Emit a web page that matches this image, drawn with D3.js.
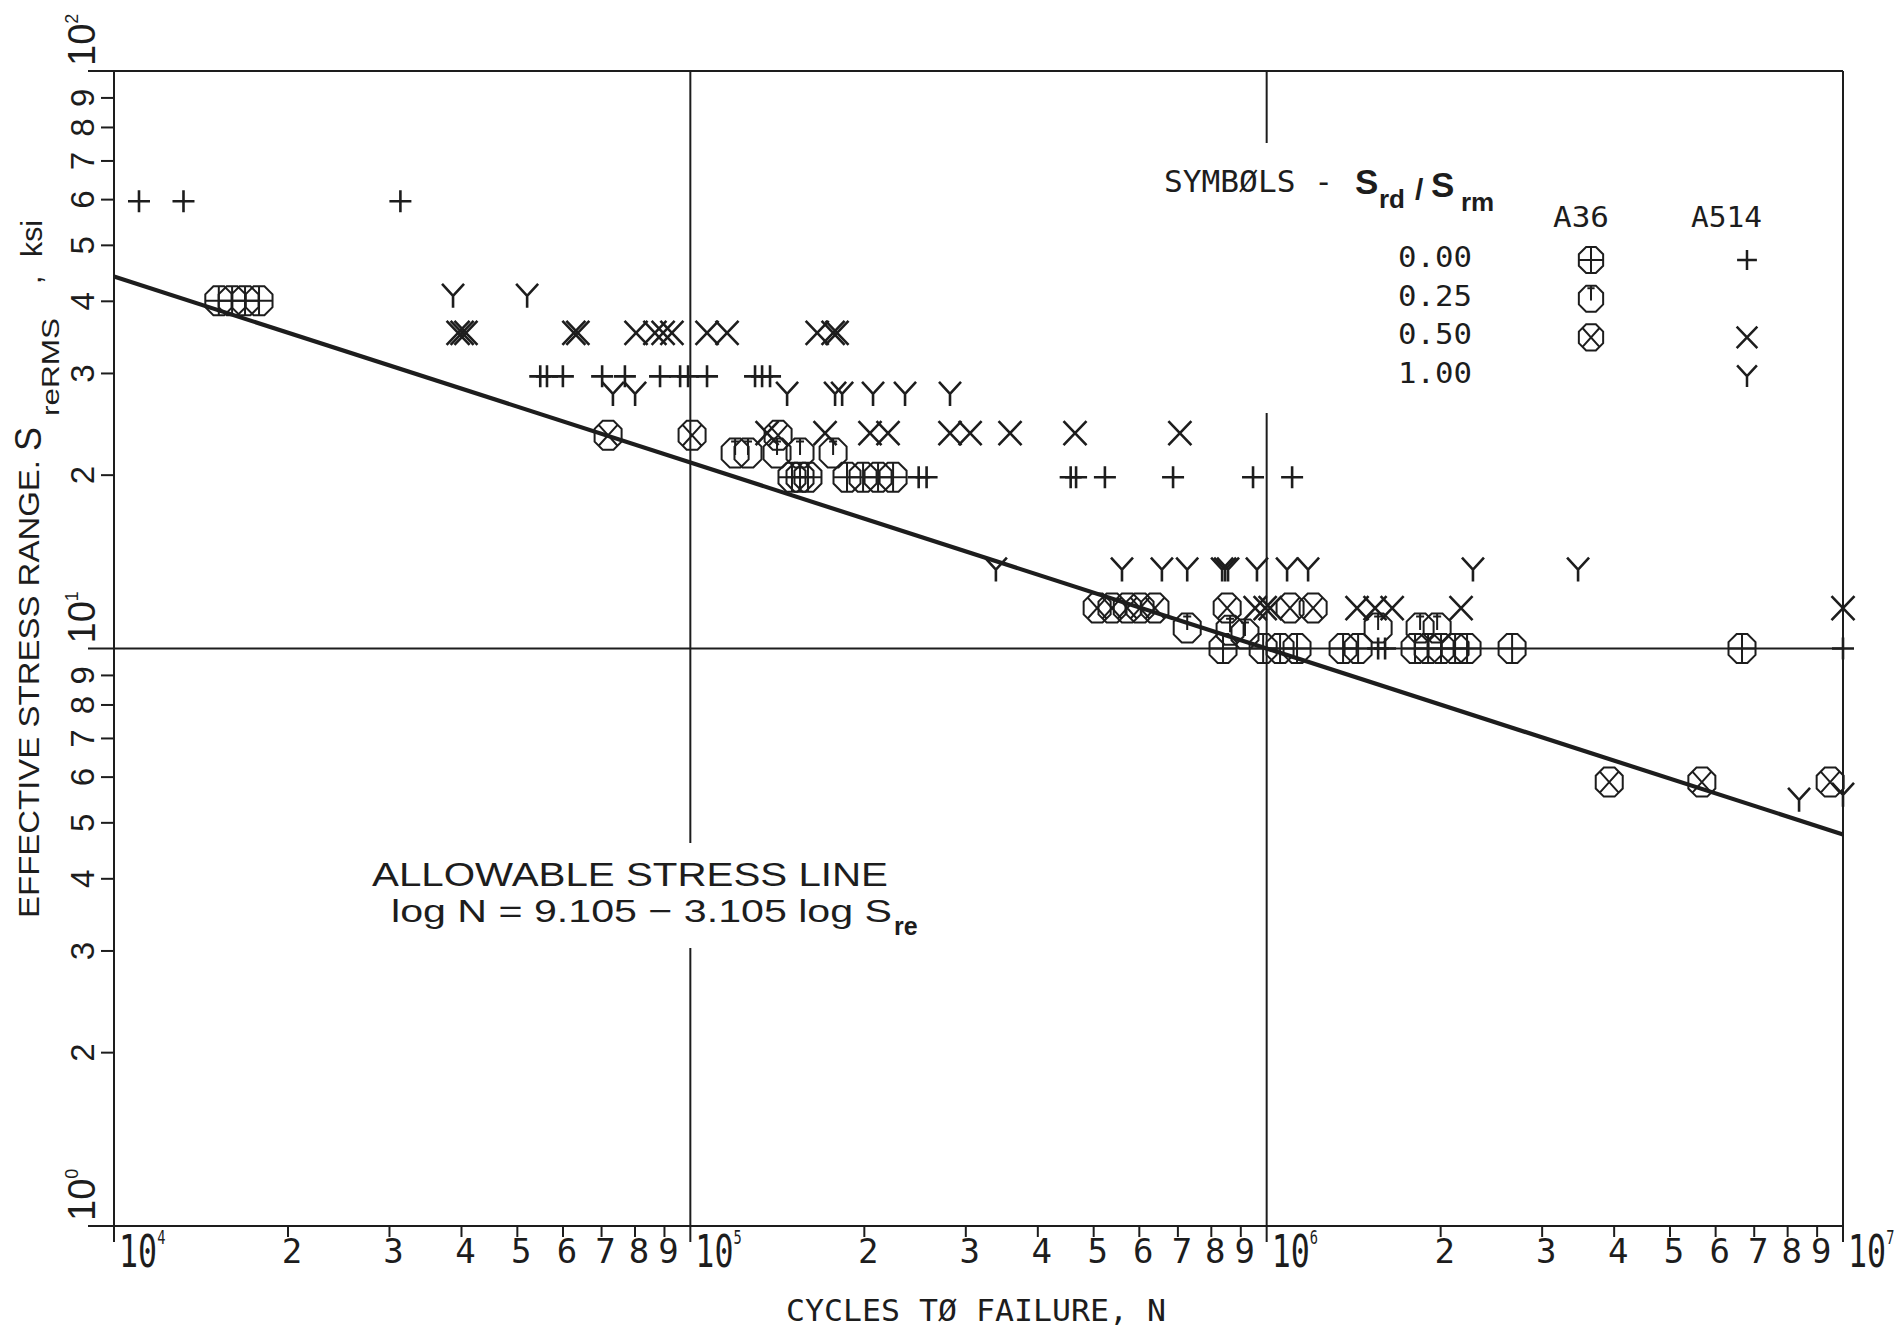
<!DOCTYPE html>
<html>
<head>
  <meta charset="utf-8">
  <title>Effective stress range vs cycles to failure</title>
  <script src="https://d3js.org/d3.v7.min.js"></script>
  <style>
    body { margin: 0; background: #fff; }
    svg { display: block; }
    .ink { stroke: #1d1d1d; fill: none; }
    .mono { font-family: "DejaVu Sans Mono", monospace; fill: #1d1d1d; }
    .sans { font-family: "Liberation Sans", Arial, sans-serif; fill: #1d1d1d; }
  </style>
</head>
<body>
<svg width="1902" height="1332"></svg>
<script>
// ---- data: [cycles N, stress range ksi] ----
const a36_000 = [
  [1.52e4, 40], [1.603e4, 40], [1.688e4, 40], [1.785e4, 40],
  [1.501e5, 19.8], [1.55e5, 19.8], [1.6e5, 19.8], [1.87e5, 19.8], [1.994e5, 19.8], [2.117e5, 19.8], [2.248e5, 19.8],
  [8.4e5, 10], [9.86e5, 10], [1.055e6, 10], [1.129e6, 10], [1.357e6, 10], [1.441e6, 10], [1.809e6, 10],
  [1.906e6, 10], [2.007e6, 10], [2.123e6, 10], [2.227e6, 10], [2.666e6, 10], [6.68e6, 10]
];
const a36_025 = [
  [1.196e5, 21.8], [1.259e5, 21.8], [1.414e5, 21.8], [1.55e5, 21.8], [1.769e5, 21.8],
  [7.28e5, 10.85], [8.64e5, 10.76], [9.17e5, 10.6], [1.561e6, 10.85], [1.846e6, 10.85], [1.976e6, 10.85]
];
const a36_050 = [
  [7.2e4, 23.4], [1.007e5, 23.4], [1.42e5, 23.4],
  [5.08e5, 11.75], [5.39e5, 11.75], [5.73e5, 11.75], [6.03e5, 11.75], [6.4e5, 11.75],
  [8.54e5, 11.75], [1.098e6, 11.75], [1.204e6, 11.75],
  [3.93e6, 5.87], [5.69e6, 5.87], [9.5e6, 5.87]
];
const a514_000 = [
  [1.105e4, 59.5], [1.32e4, 59.5], [3.14e4, 59.5],
  [5.49e4, 29.6], [5.64e4, 29.6], [6.01e4, 29.6], [7.03e4, 29.6], [7.7e4, 29.6], [8.86e4, 29.6],
  [9.6e4, 29.6], [9.91e4, 29.6], [1.069e5, 29.6], [1.295e5, 29.6], [1.332e5, 29.6], [1.375e5, 29.6],
  [2.49e5, 19.8], [2.57e5, 19.8], [4.57e5, 19.8], [4.67e5, 19.8], [5.24e5, 19.8], [6.88e5, 19.8],
  [9.47e5, 19.8], [1.107e6, 19.8],
  [1.561e6, 10], [1.605e6, 10], [1.0e7, 10]
];
const a514_050 = [
  [3.954e4, 35.2], [4.018e4, 35.2], [4.08e4, 35.2], [6.28e4, 35.2], [6.38e4, 35.2], [8.05e4, 35.2],
  [8.68e4, 35.2], [8.97e4, 35.2], [9.29e4, 35.2], [1.069e5, 35.2], [1.158e5, 35.2], [1.66e5, 35.2],
  [1.769e5, 35.2], [1.797e5, 35.2],
  [1.359e5, 23.6], [1.713e5, 23.6], [2.05e5, 23.6], [2.203e5, 23.6], [2.822e5, 23.6], [3.058e5, 23.6],
  [3.587e5, 23.6], [4.65e5, 23.6], [7.07e5, 23.6],
  [9.55e5, 11.75], [9.94e5, 11.75], [1.014e6, 11.75], [1.435e6, 11.75], [1.542e6, 11.75],
  [1.651e6, 11.75], [2.174e6, 11.75], [1.0e7, 11.75]
];
const a514_100 = [
  [3.875e4, 40.8], [5.21e4, 40.8],
  [7.34e4, 27.6], [8.02e4, 27.6], [1.472e5, 27.6], [1.783e5, 27.6], [1.834e5, 27.6], [2.075e5, 27.6],
  [2.358e5, 27.6], [2.822e5, 27.6],
  [3.39e5, 13.7], [5.61e5, 13.7], [6.58e5, 13.7], [7.28e5, 13.7], [8.37e5, 13.7], [8.47e5, 13.7],
  [8.57e5, 13.7], [9.62e5, 13.7], [1.085e6, 13.7], [1.18e6, 13.7], [2.28e6, 13.7], [3.47e6, 13.7],
  [8.39e6, 5.47], [1.0e7, 5.58]
];

// allowable stress line: log N = 9.105 - 3.105 log S
const lineA = 9.105, lineB = 3.105;
const lineN = [1e4, 1e7];

// tick labels
const minorDigits = [2, 3, 4, 5, 6, 7, 8, 9];
const xDecades = [4, 5, 6, 7];
const yDecades = [0, 1, 2];
const legendRatios = ["0.00", "0.25", "0.50", "1.00"];
const legendCols = ["A36", "A514"];

// ---- layout ----
const svg = d3.select("svg");
const x = d3.scaleLog().domain([1e4, 1e7]).range([114, 1843]);
const y = d3.scaleLog().domain([1, 100]).range([1226, 71]);
const g = svg.append("g");

// frame / decade lines
yDecades.forEach(k => {
  g.append("line").attr("class", "ink").attr("stroke-width", 2)
    .attr("x1", 88).attr("x2", x(1e7)).attr("y1", y(10 ** k)).attr("y2", y(10 ** k));
});
const vSegments = {
  4: [[71, 1242]],
  5: [[71, 843], [948, 1242]],
  6: [[71, 143], [413, 1242]],
  7: [[71, 1242]]
};
xDecades.forEach(k => {
  vSegments[k].forEach(s => {
    g.append("line").attr("class", "ink").attr("stroke-width", 2)
      .attr("x1", x(10 ** k)).attr("x2", x(10 ** k)).attr("y1", s[0]).attr("y2", s[1]);
  });
});

const leadDigit = d => String(Math.round(d / 10 ** Math.floor(Math.log10(d) + 1e-9)));

// minor ticks, left axis
const yMinor = [1, 10].flatMap(d => minorDigits.map(m => m * d));
const yAxis = g.append("g").attr("transform", `translate(${x(1e4)},0)`)
  .call(d3.axisLeft(y).tickValues(yMinor).tickSize(13).tickSizeOuter(0).tickFormat(leadDigit));
yAxis.select(".domain").remove();
yAxis.selectAll("line").attr("stroke", "#1d1d1d").attr("stroke-width", 2);
yAxis.selectAll("text")
  .attr("class", "sans").attr("font-size", 33).attr("x", null).attr("dy", null)
  .attr("text-anchor", "middle")
  .attr("transform", "translate(-20,0) rotate(-90)")
  .attr("fill", "#1d1d1d");
yAxis.attr("font-family", null).attr("font-size", null);

// minor ticks, bottom axis
const xMinor = [1e4, 1e5, 1e6].flatMap(d => minorDigits.map(m => m * d));
const xAxis = g.append("g").attr("transform", `translate(0,${y(1)})`)
  .call(d3.axisBottom(x).tickValues(xMinor).tickSize(11).tickSizeOuter(0).tickFormat(leadDigit));
xAxis.select(".domain").remove();
xAxis.selectAll("line").attr("stroke", "#1d1d1d").attr("stroke-width", 2);
xAxis.selectAll("text")
  .attr("class", "mono").attr("font-size", 34).attr("dy", null)
  .attr("x", 4).attr("y", 37).attr("text-anchor", "middle").attr("fill", "#1d1d1d");
xAxis.attr("font-family", null).attr("font-size", null);

// decade labels
xDecades.forEach(k => {
  const t = g.append("text").attr("class", "mono").attr("font-size", 44)
    .attr("transform", `translate(${x(10 ** k) + 5},1267) scale(0.72,1)`);
  t.append("tspan").text("10");
  t.append("tspan").attr("font-size", 19).attr("dy", -23).text(k);
});
yDecades.forEach(k => {
  const t = g.append("text").attr("class", "sans")
    .attr("transform", `translate(95,${y(10 ** k) - 5}) rotate(-90)`)
    .attr("font-size", 38);
  t.append("tspan").text("10");
  t.append("tspan").attr("font-size", 18).attr("dy", -17).text(k);
});

// allowable stress line
const stressAt = n => 10 ** ((lineA - Math.log10(n)) / lineB);
g.append("path").attr("class", "ink").attr("stroke-width", 4.2)
  .attr("d", d3.line().x(n => x(n)).y(n => y(stressAt(n)))(lineN));

// ---- marker shapes ----
function octagon(w, h) {
  const a = w / 2, b = h / 2, c = w * 0.3;
  return `M${-a + c},${-b}H${a - c}L${a},${-b + c}V${b - c}L${a - c},${b}H${-a + c}L${-a},${b - c}V${-b + c}Z`;
}
function shape(kind, s) {
  const w = 27 * s, h = 29 * s, a = w / 2, b = h / 2, c = w * 0.3;
  switch (kind) {
    case "oPlus": return octagon(w, h) + `M0,${-b}V${b}M${-a},0H${a}`;
    case "oTick": return octagon(w, h) + `M0,${-b}V${2 * s}M${-4 * s},${-b + 3 * s}H${4 * s}`;
    case "oCross": return octagon(w, h) +
      `M${-a + c / 2},${-b + c / 2}L${a - c / 2},${b - c / 2}M${a - c / 2},${-b + c / 2}L${-a + c / 2},${b - c / 2}`;
    case "plus": return `M${-11 * s},0H${11 * s}M0,${-11 * s}V${11 * s}`;
    case "cross": return `M${-11.5 * s},${-12 * s}L${11.5 * s},${12 * s}M${11.5 * s},${-12 * s}L${-11.5 * s},${12 * s}`;
    case "why": return `M${-11 * s},${-12 * s}L0,0L${11 * s},${-12 * s}M0,0V${12 * s}`;
  }
}

const series = [
  { data: a36_000, kind: "oPlus", sw: 2 },
  { data: a36_025, kind: "oTick", sw: 2 },
  { data: a36_050, kind: "oCross", sw: 2 },
  { data: a514_000, kind: "plus", sw: 2.6 },
  { data: a514_050, kind: "cross", sw: 2.6 },
  { data: a514_100, kind: "why", sw: 2.6 }
];
series.forEach(sr => {
  g.append("g").selectAll("path").data(sr.data).join("path")
    .attr("class", "ink").attr("stroke-width", sr.sw)
    .attr("transform", d => `translate(${x(d[0])},${y(d[1])})`)
    .attr("d", shape(sr.kind, 1));
});

// ---- legend ----
const lg = svg.append("g");
lg.append("text").attr("class", "mono").attr("x", 1164).attr("y", 192).attr("font-size", 30)
  .attr("textLength", 169).attr("lengthAdjust", "spacingAndGlyphs").text("SYMBØLS -");
const sub = (txt, xx, yy, fs) => lg.append("text").attr("class", "sans").attr("font-weight", "bold")
  .attr("x", xx).attr("y", yy).attr("font-size", fs).text(txt);
sub("S", 1355, 194, 35); sub("rd", 1379, 208, 26); sub("/", 1415, 200, 30);
sub("S", 1431, 197, 35); sub("rm", 1461, 211, 26);
lg.selectAll("text.col").data(legendCols).join("text").attr("class", "mono col")
  .attr("x", (d, i) => [1553, 1691][i]).attr("y", 227).attr("font-size", 28)
  .attr("textLength", (d, i) => [56, 71][i]).attr("lengthAdjust", "spacingAndGlyphs").text(d => d);
lg.selectAll("text.ratio").data(legendRatios).join("text").attr("class", "mono ratio")
  .attr("x", 1472).attr("y", (d, i) => 267 + i * 38.7).attr("font-size", 28).attr("text-anchor", "end")
  .attr("textLength", 74).attr("lengthAdjust", "spacingAndGlyphs").text(d => d);
const legendSymbols = [
  [0, 1591, "oPlus"], [1, 1591, "oTick"], [2, 1591, "oCross"],
  [0, 1747, "plus"], [2, 1747, "cross"], [3, 1747, "why"]
];
legendSymbols.forEach(([r, cx, kind]) => {
  lg.append("path").attr("class", "ink").attr("stroke-width", kind[0] === "o" ? 2 : 2.5)
    .attr("transform", `translate(${cx},${260 + r * 38.7})`).attr("d", shape(kind, 0.9));
});

// ---- titles ----
g.append("text").attr("class", "mono").attr("x", 786).attr("y", 1321).attr("font-size", 31)
  .attr("textLength", 380).attr("lengthAdjust", "spacingAndGlyphs").text("CYCLES TØ FAILURE, N");

const yt = (txt, bx, sy, fs, len) => {
  const t = g.append("text").attr("class", "sans").attr("font-size", fs)
    .attr("transform", `translate(${bx},${sy}) rotate(-90)`).text(txt);
  if (len) t.attr("textLength", len).attr("lengthAdjust", "spacingAndGlyphs");
  return t;
};
yt("EFFECTIVE STRESS RANGE.", 39, 918, 30, 458);
yt("S", 41, 451, 36);
yt("reRMS", 59, 416, 24, 98);
yt(",", 41, 284, 30);
yt("ksi", 42, 257, 30, 37);

g.append("text").attr("class", "sans").attr("x", 372).attr("y", 886).attr("font-size", 34)
  .attr("textLength", 516).attr("lengthAdjust", "spacingAndGlyphs").text("ALLOWABLE STRESS LINE");
g.append("text").attr("class", "sans").attr("x", 391).attr("y", 922).attr("font-size", 32)
  .attr("textLength", 501).attr("lengthAdjust", "spacingAndGlyphs").text("log N = 9.105 − 3.105 log S");
g.append("text").attr("class", "sans").attr("x", 894).attr("y", 935).attr("font-size", 25)
  .attr("font-weight", "bold").text("re");
</script>
</body>
</html>
